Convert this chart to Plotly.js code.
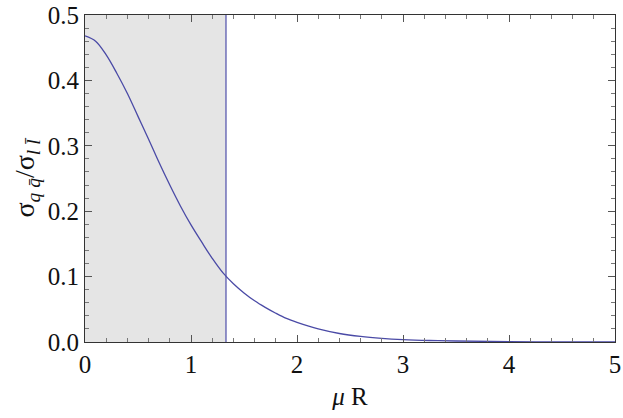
<!DOCTYPE html>
<html>
<head>
<meta charset="utf-8">
<script src="https://cdn.plot.ly/plotly-3.0.1.min.js"></script>
</head>
<body style="margin:0">
<div id="plotly_graph" style="width:623px;height:418px"></div>
<script>
// ~~~~~~~~~~~~~~~~~~~~~~~~~~~~~~~~~ DATA ~~~~~~~~~~~~~~~~~~~~~~~~~~~~~~~~~~
const MU_R = [0, 0.1, 0.2, 0.3, 0.4, 0.5, 0.6, 0.7, 0.8, 0.9, 1.0, 1.1, 1.2, 1.3,
              1.4, 1.5, 1.6, 1.7, 1.8, 1.9, 2.0, 2.2, 2.4, 2.6, 2.8, 3.0, 3.25, 3.5,
              4.0, 4.5, 5.0]
const RATIO = [0.468, 0.460, 0.439, 0.411, 0.380, 0.345, 0.310, 0.274, 0.240, 0.208,
               0.179, 0.153, 0.128, 0.106, 0.089, 0.075, 0.063, 0.053, 0.044, 0.036,
               0.030, 0.020, 0.013, 0.0085, 0.0056, 0.0037, 0.0023, 0.0015,
               0.0006, 0.0002, 0.0001]

const CUTOFF = 1.33      // edge of the shaded region
const Y_TOP = 0.5

const X_TICKS = [0, 1, 2, 3, 4, 5]
const Y_TICKS = [0.0, 0.1, 0.2, 0.3, 0.4, 0.5]

// ~~~~~~~~~~~~~~~~~~~~~~~~~~~~~~~~~ TRACES ~~~~~~~~~~~~~~~~~~~~~~~~~~~~~~~~
let shade = {
    type: 'scatter', mode: 'lines',
    x: [0, CUTOFF], y: [Y_TOP, Y_TOP],
    fill: 'tozeroy', fillcolor: '#e5e5e5',
    line: {width: 0, color: 'rgba(0,0,0,0)'},
    hoverinfo: 'skip'
}

let cutLine = {
    type: 'scatter', mode: 'lines',
    x: [CUTOFF, CUTOFF], y: [0, Y_TOP],
    line: {color: '#6f6fb8', width: 1.5}
}

let curve = {
    type: 'scatter', mode: 'lines',
    x: MU_R, y: RATIO,
    line: {color: '#4a4aa6', width: 1.3, shape: 'spline', smoothing: 1}
}

const SERIF = 'Liberation Serif, DejaVu Serif, serif'

let layout = {
    width: 623, height: 418,
    margin: {t: 15, r: 8, b: 76, l: 85},
    paper_bgcolor: '#fff', plot_bgcolor: '#fff',
    showlegend: false,
    font: {family: SERIF, size: 24, color: '#111'},
    xaxis: {
        range: [0, 5],
        tickvals: X_TICKS,
        ticks: 'inside', ticklen: 7, tickcolor: '#555', tickwidth: 1,
        minor: {dtick: 0.2, ticks: 'inside', ticklen: 4, tickcolor: '#777', showgrid: false},
        showline: true, linecolor: '#333', linewidth: 1, mirror: 'allticks',
        showgrid: false, zeroline: false,
        tickfont: {family: SERIF, size: 25, color: '#111'},
        title: {text: '<i>μ</i> R', font: {family: SERIF, size: 25, color: '#111'}, standoff: 10}
    },
    yaxis: {
        range: [0, Y_TOP],
        tickvals: Y_TICKS, tickformat: '.1f',
        ticks: 'inside', ticklen: 7, tickcolor: '#555', tickwidth: 1,
        minor: {dtick: 0.02, ticks: 'inside', ticklen: 4, tickcolor: '#777', showgrid: false},
        showline: true, linecolor: '#333', linewidth: 1, mirror: 'allticks',
        showgrid: false, zeroline: false,
        tickfont: {family: SERIF, size: 25, color: '#111'},
        title: {
            text: 'σ<sub><i>q q\u0304</i></sub>/σ<sub><i>l l\u0304</i></sub>',
            font: {family: SERIF, size: 28, color: '#111'},
            standoff: 4
        }
    }
}

Plotly.newPlot('plotly_graph', [shade, cutLine, curve], layout, {displayModeBar: false, staticPlot: true})
</script>
</body>
</html>
